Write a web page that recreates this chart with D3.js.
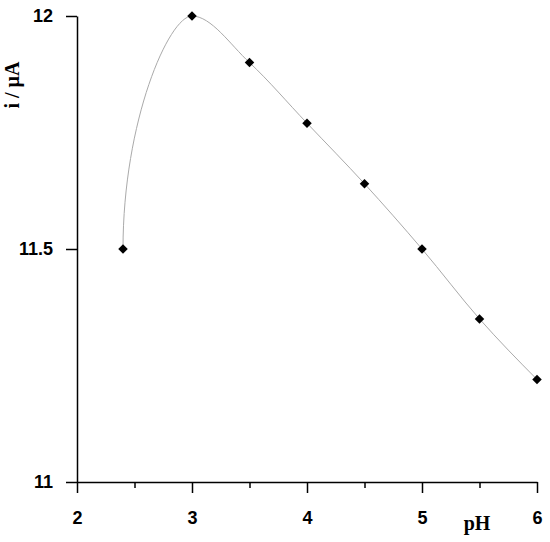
<!DOCTYPE html>
<html><head><meta charset="utf-8">
<script src="https://cdn.jsdelivr.net/npm/d3@7"></script>
<style>body{margin:0;background:#fff}svg{display:block}</style>
</head><body>
<script>
const pH = [2.4, 3, 3.5, 4, 4.5, 5, 5.5, 6];
const current = [11.5, 12, 11.9, 11.77, 11.64, 11.5, 11.35, 11.22];
const xTicks = [2, 3, 4, 5, 6];
const xMinor = [2.5, 3.5, 4.5, 5.5];
const yTicks = [11, 11.5, 12];

// Monotone-X style spline whose open start leaves the first point vertically
function curveSplineVStart(context) {
  let xs, ys;
  return {
    lineStart() { xs = []; ys = []; },
    point(x, y) { xs.push(+x); ys.push(+y); },
    lineEnd() {
      const n = xs.length;
      if (!n) return;
      context.moveTo(xs[0], ys[0]);
      if (n === 1) return;
      const s = [];
      for (let i = 0; i < n - 1; i++) s.push((ys[i + 1] - ys[i]) / (xs[i + 1] - xs[i]));
      const m = new Array(n);
      for (let i = 1; i < n - 1; i++) {
        const h0 = xs[i] - xs[i - 1], h1 = xs[i + 1] - xs[i];
        const s0 = s[i - 1], s1 = s[i];
        const p = (s0 * h1 + s1 * h0) / (h0 + h1);
        m[i] = (Math.sign(s0) + Math.sign(s1)) * Math.min(Math.abs(s0), Math.abs(s1), 0.5 * Math.abs(p)) || 0;
      }
      m[n - 1] = n > 2 ? (3 * s[n - 2] - m[n - 2]) / 2 : s[0];
      for (let i = 0; i < n - 1; i++) {
        const dx = (xs[i + 1] - xs[i]) / 3;
        let c1x, c1y;
        if (i === 0) { c1x = xs[0]; c1y = ys[0] + 0.55 * (ys[1] - ys[0]); }
        else { c1x = xs[i] + dx; c1y = ys[i] + m[i] * dx; }
        context.bezierCurveTo(c1x, c1y, xs[i + 1] - dx, ys[i + 1] - m[i + 1] * dx, xs[i + 1], ys[i + 1]);
      }
    },
    areaStart() {}, areaEnd() {}
  };
}

const W = 550, H = 542;
const svg = d3.select("body").append("svg").attr("width", W).attr("height", H);
const x = d3.scaleLinear().domain([2, 6]).range([77, 537]);
const y = d3.scaleLinear().domain([11, 12]).range([482, 16]);
const data = pH.map((p, i) => ({p, v: current[i]}));

svg.append("path").datum(data)
  .attr("fill", "none").attr("stroke", "#aaa").attr("stroke-width", 1)
  .attr("d", d3.line().x(d => x(d.p)).y(d => y(d.v)).curve(curveSplineVStart));

const xa = svg.append("g").attr("transform", `translate(0,${y(11)})`)
  .call(d3.axisBottom(x).tickValues(xTicks).tickFormat(d3.format("d")).tickSizeInner(11).tickSizeOuter(0).tickPadding(18));
const xm = svg.append("g").attr("transform", `translate(0,${y(11)})`)
  .call(d3.axisBottom(x).tickValues(xMinor).tickFormat("").tickSizeInner(6).tickSizeOuter(0));
xm.select(".domain").remove();
const ya = svg.append("g").attr("transform", `translate(${x(2)},0)`)
  .call(d3.axisLeft(y).tickValues(yTicks).tickFormat(d => d).tickSizeInner(11).tickSizeOuter(0).tickPadding(13));
[xa, xm, ya].forEach(g => {
  g.selectAll("path,line").attr("stroke", "#000").attr("stroke-width", 1.5);
  g.selectAll("text").attr("fill", "#000")
    .style("font-family", "'Liberation Sans', Arial, sans-serif")
    .style("font-weight", "bold").style("font-size", "18px");
});

svg.append("g").selectAll("path").data(data).join("path")
  .attr("d", d3.symbol().type(d3.symbolSquare).size(45))
  .attr("transform", d => `translate(${x(d.p)},${y(d.v)}) rotate(45)`)
  .attr("fill", "#000");

svg.append("text").attr("x", 477).attr("y", 530).attr("text-anchor", "middle")
  .style("font-family", "'Liberation Serif', 'Times New Roman', serif")
  .style("font-weight", "bold").style("font-size", "20px").text("pH");
svg.append("text").attr("transform", "translate(19,85) rotate(-90)").attr("text-anchor", "middle")
  .style("font-family", "'Liberation Serif', 'Times New Roman', serif")
  .style("font-weight", "bold").style("font-size", "20px").text("i / µA");
</script>
</body></html>
